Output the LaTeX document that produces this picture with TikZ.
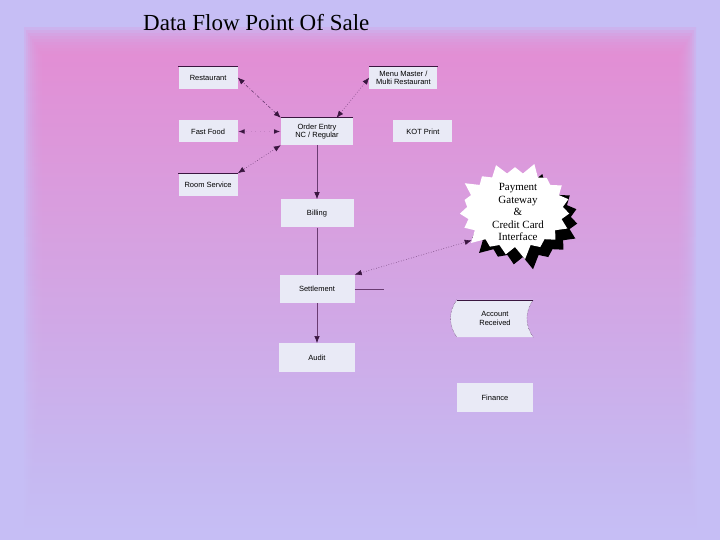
\documentclass[tikz,border=0pt]{standalone}
\usepackage{fontspec}
\setmainfont{Liberation Serif}
\setsansfont{Liberation Sans}
\usetikzlibrary{arrows.meta,positioning,shapes.symbols,shadows}
\definecolor{lav}{HTML}{C6BEF5}
\definecolor{rose}{HTML}{E88AD2}
\definecolor{plum}{HTML}{3A1640}
\definecolor{wire}{HTML}{6A3C72}
\definecolor{pale}{HTML}{E9EAF6}
\tikzset{box/.style={fill=pale,align=center,minimum width=59pt,minimum height=22pt,
  font=\sffamily\fontsize{7.5}{8.5}\selectfont,inner sep=1pt},
  topline/.style={draw=plum,semithick},
  arrow/.style={-{Latex[length=7pt,width=5.5pt,color=plum]},draw=wire,semithick},
  both/.style={{Latex[length=7pt,width=5.5pt,color=plum]}-{Latex[length=7pt,width=5.5pt,color=plum]},draw=wire,semithick},
  fade/.style={top color=rose,bottom color=lav,opacity=.2},
  burst/.style={starburst,starburst points=19,starburst point height=13pt,random starburst=9,
  fill=white,minimum width=122pt,minimum height=100pt,inner sep=0pt,
  drop shadow={fill=black,opacity=1,shadow xshift=8pt,shadow yshift=-10pt}}}
\begin{document}
\begin{tikzpicture}[x=1pt,y=-1pt]
% background
\fill[lav] (0,0) rectangle (720,540);
\shade[fade] (24,28) rectangle (696,532);
\shade[fade] (26,31) rectangle (694,530);
\shade[fade] (28,34) rectangle (692,528);
\shade[fade] (30,37) rectangle (690,526);
\shade[fade] (32,40) rectangle (688,524);
\shade[fade] (34,43) rectangle (686,522);
\shade[fade] (36,46) rectangle (684,520);
\shade[fade] (38,49) rectangle (682,518);
\shade[fade] (40,52) rectangle (680,516);
\shade[fade] (42,55) rectangle (678,514);
\node[anchor=base west,inner sep=0pt,font=\fontsize{23}{25}\selectfont] (title) at (143,31) {Data Flow Point Of Sale};
% boxes
\node[box,minimum width=72pt,minimum height=27pt] (order) at (317,131.5) {Order Entry\\NC / Regular};
\node[box,above left=29pt and 43pt of order] (rest) {Restaurant};
\node[box,minimum width=68pt,above right=29pt and 16pt of order] (menu) {Menu Master /\\Multi Restaurant};
\node[box,left=43pt of order] (fast) {Fast Food};
\node[box,right=40pt of order] (kot) {KOT Print};
\node[box,minimum height=23pt,below left=28pt and 43pt of order] (room) {Room Service};
\node[box,minimum width=73pt,minimum height=28pt,below=54pt of order] (bill) {Billing};
\node[box,minimum width=75pt,minimum height=28pt,below=47pt of bill] (settle) {Settlement};
\node[box,minimum width=76pt,minimum height=29pt,below=40pt of settle] (audit) {Audit};
\node[box,fill=none,minimum width=76pt,minimum height=37pt] (acct) at (495,318.5) {};
\node[box,minimum width=76pt,minimum height=29pt,below=46pt of acct] (fin) {Finance};
\node[burst] (pay) at (515,210) {};
\node[align=center,font=\fontsize{11}{12.5}\selectfont] (paytext) at (518,212) {Payment\\Gateway\\\&\\Credit Card\\Interface};
\fill[pale] (acct.north west) to[bend right=35] (acct.south west) -- (acct.south east)
  to[bend left=35] (acct.north east) -- cycle;
\draw[plum,densely dotted] (acct.north west) to[bend right=35] (acct.south west);
\draw[plum,densely dotted] (acct.south east) to[bend left=35] (acct.north east);
\node[font=\sffamily\fontsize{7.5}{8.5}\selectfont,align=center] (acctlabel) at (acct) {Account\\Received};
\draw[topline] (acct.north west) -- (acct.north east);
\draw[topline] (rest.north west) -- (rest.north east);
\draw[topline] (menu.north west) -- (menu.north east);
\draw[topline] (order.north west) -- (order.north east);
\draw[topline] (room.north west) -- (room.north east);
% connectors
\coordinate[right=29pt of settle.east] (stub);
\draw[both,dash dot] (order.north west) -- (rest.east);
\draw[both,dotted] (order.35) -- (menu.west);
\draw[both,draw opacity=.2,loosely dotted] (order.west) -- (fast.east);
\draw[both,dotted] (order.south west) -- (room.north east);
\draw[arrow] (order) -- (bill);
\draw[wire,semithick] (bill) -- (settle);
\draw[arrow] (settle) -- (audit);
\draw[wire,semithick] (settle.east) -- (stub);
\draw[both,dotted] (settle.north east) -- (pay.215);
\end{tikzpicture}
\end{document}
